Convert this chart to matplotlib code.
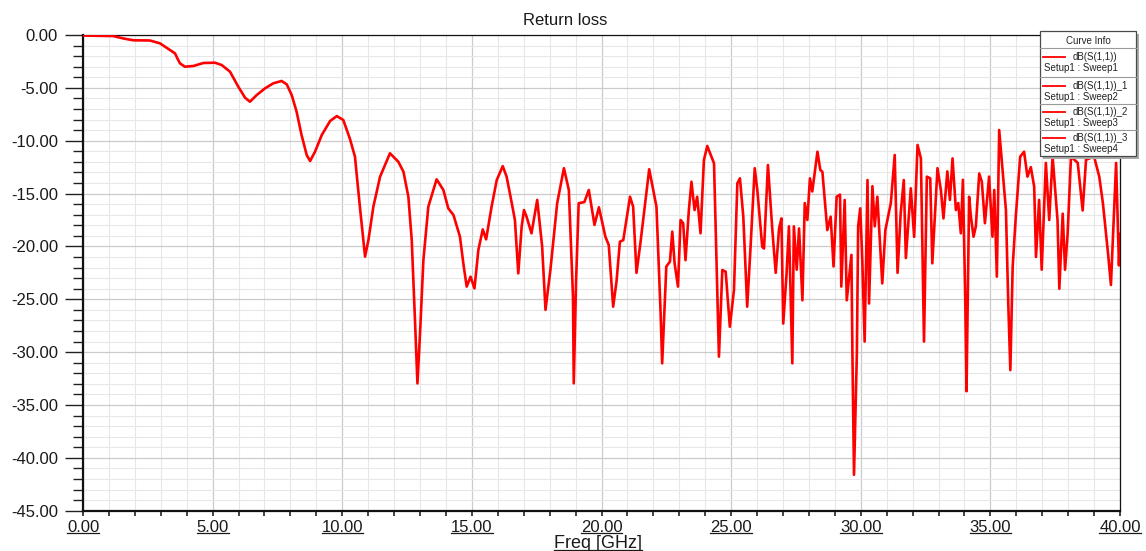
import matplotlib
matplotlib.use('Agg')
import matplotlib.pyplot as plt
from matplotlib.ticker import FixedLocator, MultipleLocator
from matplotlib.patches import Rectangle
from matplotlib.lines import Line2D
from matplotlib.transforms import IdentityTransform

# ---------------- data ----------------
freq_ghz = [0.0, 1.16, 1.6, 1.94, 2.58, 2.97, 3.29, 3.55, 3.64, 3.74, 3.93, 4.26, 4.64, 5.09, 5.35,
            5.67, 5.99, 6.25, 6.44, 6.7, 7.02, 7.34, 7.66, 7.86, 8.05, 8.24, 8.43, 8.63, 8.76,
            8.95, 9.21, 9.53, 9.79, 10.04, 10.3, 10.49, 10.68, 10.88, 11.01, 11.2, 11.46, 11.84,
            12.16, 12.36, 12.55, 12.68, 12.8, 12.9, 13.0, 13.13, 13.32, 13.64, 13.9, 14.09,
            14.29, 14.54, 14.67, 14.8, 14.95, 15.1, 15.25, 15.42, 15.55, 15.76, 15.96, 16.19,
            16.34, 16.54, 16.66, 16.79, 16.92, 17.01, 17.11, 17.3, 17.52,
            17.71, 17.84, 18.03, 18.29, 18.55, 18.74, 18.9, 18.93, 19.02,
            19.12, 19.34, 19.51, 19.73, 19.9, 20.15, 20.28, 20.45, 20.58, 20.71, 20.84, 21.1,
            21.22, 21.35, 21.5, 21.84, 22.12, 22.28, 22.34, 22.5, 22.64, 22.73, 22.82, 22.95,
            23.05, 23.15, 23.24, 23.37, 23.47, 23.59, 23.69, 23.82, 23.95, 24.08, 24.34, 24.44,
            24.53, 24.66, 24.79, 24.95, 25.11, 25.24, 25.34, 25.47, 25.62, 25.75, 25.91, 26.01,
            26.2, 26.27, 26.42, 26.59, 26.72, 26.85, 26.94, 27.01, 27.14, 27.23, 27.36, 27.42,
            27.53, 27.62, 27.75, 27.84, 27.94, 28.04, 28.13, 28.33, 28.44, 28.52, 28.71, 28.84,
            28.95, 29.07, 29.2, 29.25, 29.38, 29.46, 29.64, 29.68, 29.74, 29.85, 29.9, 29.98,
            30.06, 30.15, 30.26, 30.32, 30.45, 30.54, 30.64, 30.74, 30.83, 30.95, 31.16, 31.31,
            31.42, 31.54, 31.66, 31.74, 31.93, 32.06, 32.19, 32.32, 32.44, 32.55, 32.68, 32.76,
            32.96, 33.09, 33.19, 33.34, 33.44, 33.54, 33.67, 33.76, 33.86, 33.94, 34.03, 34.08,
            34.18, 34.25, 34.35, 34.44, 34.57, 34.67, 34.79, 34.95, 35.08, 35.15, 35.25, 35.34,
            35.47, 35.6, 35.69, 35.77, 35.86, 35.98, 36.15, 36.3, 36.43, 36.56, 36.69, 36.76,
            36.88, 36.98, 37.14, 37.27, 37.4, 37.59, 37.66, 37.79, 37.88, 37.98, 38.11, 38.37,
            38.56, 38.69, 39.0, 39.2, 39.34, 39.54, 39.65, 39.85, 39.96, 40.0]
s11_db = [-0.05, -0.1, -0.35, -0.5, -0.52, -0.79, -1.32, -1.74, -2.21, -2.68, -3.0, -2.93, -2.65,
          -2.62, -2.84, -3.47, -4.89, -5.93, -6.31, -5.68, -5.05, -4.57, -4.35, -4.67, -5.68,
          -7.26, -9.46, -11.36, -11.92, -11.04, -9.46, -8.14, -7.67, -8.04, -9.85, -11.51,
          -16.24, -20.97, -19.39, -16.24, -13.4, -11.19, -11.98, -12.93, -15.29, -19.39, -26.65,
          -32.96, -28.23, -21.29, -16.24, -13.65, -14.66, -16.4, -17.03, -19.08, -21.6, -23.8,
          -22.86, -23.97, -20.34, -18.39, -19.33, -16.24, -13.72, -12.4, -13.4, -15.92, -17.5,
          -22.55, -18.13, -16.56, -17.19, -18.76, -15.6,
          -20.0, -26.0, -22.2, -15.92, -12.6, -14.66, -24.75, -32.95, -23.2, -15.92, -15.8,
          -14.66, -17.97, -16.3, -19.08, -19.87, -25.7, -23.3, -19.55, -19.4, -15.3, -16.24,
          -22.5, -19.7, -12.7, -16.24, -26.3, -31.06, -21.9, -21.44, -18.6, -21.6, -23.8, -17.5,
          -17.8, -21.3, -16.56, -13.88, -16.56, -15.3, -18.76, -11.83, -10.5, -12.14, -21.6,
          -30.43, -22.23, -22.39, -27.6, -24.12, -14.03, -13.56, -17.19, -25.7, -20.03, -12.6,
          -14.66, -20.03, -20.2, -12.3, -18.45, -22.5, -18.3, -17.35, -27.3, -22.5, -18.1,
          -31.06, -18.1, -22.2, -18.3, -25.1, -15.9, -17.5, -13.56, -14.8, -11.04, -12.77,
          -12.93, -18.45, -17.19, -21.9, -15.3, -15.1, -23.8, -15.6, -25.1, -20.8, -30.4, -41.6,
          -30.1, -18.1, -16.4, -21.3, -29.0, -13.72, -25.4, -14.3, -18.1, -15.3, -19.7, -23.5,
          -18.45, -15.9, -11.35, -22.5, -16.87, -13.72, -21.1, -14.5, -19.1, -10.4, -11.67,
          -29.0, -13.4, -13.56, -21.6, -12.6, -14.66, -17.35, -12.9, -15.6, -11.67, -16.56,
          -15.9, -18.76, -13.7, -24.8, -33.7, -15.3, -17.19, -19.08, -18.1, -13.1, -13.88,
          -17.8, -13.4, -19.08, -14.66, -22.86, -8.99, -12.77, -16.56, -25.4, -31.7, -21.92,
          -17.19, -11.51, -11.04, -13.4, -12.5, -14.35, -21.0, -15.6, -22.2, -12.1, -17.5,
          -11.5, -17.5, -24.0, -16.9, -22.2, -18.8, -11.5, -12.1, -16.6, -11.8, -11.5, -13.4,
          -15.9, -20.7, -23.65, -12.1, -21.8, -18.8]

x_ticks = [0, 5, 10, 15, 20, 25, 30, 35, 40]
x_tick_labels = ['0.00', '5.00', '10.00', '15.00', '20.00', '25.00', '30.00', '35.00', '40.00']
y_ticks = [0, -5, -10, -15, -20, -25, -30, -35, -40, -45]
y_tick_labels = ['0.00', '-5.00', '-10.00', '-15.00', '-20.00', '-25.00', '-30.00', '-35.00',
                 '-40.00', '-45.00']
title_text = 'Return loss'
x_label_text = 'Freq [GHz]'
legend_title = 'Curve Info'
legend_names = ['dB(S(1,1))', 'dB(S(1,1))_1', 'dB(S(1,1))_2', 'dB(S(1,1))_3']
legend_setups = ['Setup1 : Sweep1', 'Setup1 : Sweep2', 'Setup1 : Sweep3', 'Setup1 : Sweep4']

# ---------------- style ----------------
plt.rcParams['font.family'] = ['Liberation Sans', 'DejaVu Sans']

W, H = 1146, 551
fig = plt.figure(figsize=(W / 100, H / 100), dpi=100)
fig.patch.set_facecolor('white')


def fx(x):
    return x / W


def fy(y):
    return 1 - y / H


TXT = '#1a1a1a'

ax = fig.add_axes([fx(83), fy(510.7), (1120 - 83) / W, (510.7 - 35) / H])
ax.plot(freq_ghz, s11_db, color='#ff0000', lw=1.9, solid_joinstyle='round',
        solid_capstyle='round', zorder=3)
ax.set_xlim(0, 40)
ax.set_ylim(-45, 0)

ax.xaxis.set_major_locator(FixedLocator(x_ticks))
ax.xaxis.set_minor_locator(MultipleLocator(1))
ax.yaxis.set_major_locator(FixedLocator(y_ticks))
ax.yaxis.set_minor_locator(MultipleLocator(1))
ax.set_xticklabels(x_tick_labels)
ax.set_yticklabels(y_tick_labels)

ax.grid(which='major', color='#cbcbcb', lw=0.9)
ax.grid(which='minor', color='#e7e7e7', lw=0.8)
ax.set_axisbelow(True)

for s in ['left', 'bottom']:
    ax.spines[s].set_linewidth(1.6)
for s in ['top', 'right']:
    ax.spines[s].set_linewidth(0.9)
for s in ax.spines.values():
    s.set_color('#111111')

ax.tick_params(axis='y', which='major', length=13, width=1.0, direction='out', pad=5,
               labelsize=12, labelcolor=TXT, color='#222222')
ax.tick_params(axis='y', which='minor', length=7, width=1.0, direction='out', color='#222222')
ax.tick_params(axis='x', which='major', length=3.5, width=1.2, direction='out', pad=3,
               labelsize=12, labelcolor=TXT, color='#222222')
ax.tick_params(axis='x', which='minor', length=3.5, width=1.2, direction='out', color='#222222')

fig.text(fx(565), fy(25), title_text, ha='center', va='baseline', fontsize=12, color=TXT)
xl = fig.text(fx(598), fy(548), x_label_text, ha='center', va='baseline', fontsize=13, color=TXT)

# ---------------- legend box (Curve Info) ----------------
L, R, T, B = 1040, 1136, 31, 156
fig.add_artist(Rectangle((fx(L + 3), fy(B + 3)), (R - L) / W, (B - T) / H,
                         transform=fig.transFigure, facecolor='#a9a9a9', edgecolor='none',
                         zorder=20))
fig.add_artist(Rectangle((fx(L), fy(B)), (R - L) / W, (B - T) / H,
                         transform=fig.transFigure, facecolor='white', edgecolor='#4a4a4a',
                         lw=0.9, zorder=21))
fig.text(fx((L + R) / 2), fy(40.5), legend_title, ha='center', va='center', fontsize=7,
         color='#222222', zorder=22)
seps = [48.3, 77.3, 103.5, 129.5]
for i, s in enumerate(seps):
    fig.add_artist(Line2D([fx(L), fx(R)], [fy(s), fy(s)], transform=fig.transFigure,
                          color='#9a9a9a', lw=0.8, zorder=22))
    fig.add_artist(Line2D([fx(1043), fx(1065)], [fy(s + 8.7), fy(s + 8.7)],
                          transform=fig.transFigure, color='#ff0000', lw=1.3, zorder=22))
    fig.text(fx(1073), fy(s + 8.7), legend_names[i], ha='left', va='center', fontsize=7,
             color='#222222', zorder=22)
    fig.text(fx(1044), fy(s + 20), legend_setups[i], ha='left', va='center', fontsize=7,
             color='#222222', zorder=22)

# ---------------- underline x tick labels and x label (HFSS style) ----------------
fig.canvas.draw()
renderer = fig.canvas.get_renderer()
for lab in ax.get_xticklabels() + [xl]:
    if not lab.get_text():
        continue
    bb = lab.get_window_extent(renderer)
    size_px = lab.get_fontsize() * 100 / 72.0
    yline = bb.y0 + 0.21 * size_px - 1.8
    fig.add_artist(Line2D([bb.x0, bb.x1], [yline, yline], transform=IdentityTransform(),
                          color=TXT, lw=0.9, zorder=5))

fig.savefig('out.png', dpi=100, facecolor='white')
